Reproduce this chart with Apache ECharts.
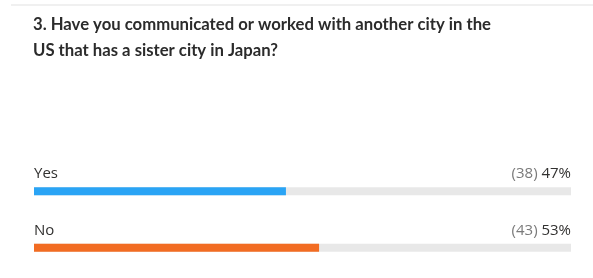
<!DOCTYPE html>
<html>
<head>
<meta charset="utf-8">
<script src="https://cdn.jsdelivr.net/npm/echarts@6/dist/echarts.min.js"></script>
<style>
  html, body { margin: 0; padding: 0; background: #fff; }
  #chart { width: 593px; height: 278px; }
</style>
</head>
<body>
<div id="chart"></div>
<script>
let answers = ['Yes', 'No']
let counts = [38, 43]
let percents = [47, 53]
let barColors = ['#2aa4f5', '#f26c22']

const total = counts.reduce((a, b) => a + b, 0)

onload = () => {
    let chart = echarts.init(document.getElementById('chart'))
    let option = {
        animation: false,
        title: {
            text: '3. Have you communicated or worked with another city in the\nUS that has a sister city in Japan?',
            left: 33,
            top: 12,
            padding: 0,
            textStyle: {
                fontFamily: 'Lato',
                fontWeight: 'bold',
                fontSize: 16.7,
                lineHeight: 26,
                color: '#2b2b2b'
            }
        },
        graphic: [{
            type: 'rect',
            shape: { x: 11, y: 4, width: 582, height: 2 },
            style: { fill: '#f0f0f0' }
        }],
        grid: { left: 34, right: 22, top: 163, height: 113 },
        xAxis: { type: 'value', min: 0, max: total, show: false },
        yAxis: { type: 'category', data: answers, inverse: true, show: false },
        series: [
            {
                // grey track + count/percent on the right
                type: 'bar',
                barWidth: 8,
                data: answers.map(() => total),
                itemStyle: { color: '#e8e8e8' },
                silent: true,
                label: {
                    show: true,
                    position: ['100%', -6],
                    align: 'right',
                    verticalAlign: 'bottom',
                    fontFamily: 'Open Sans',
                    fontSize: 15,
                    formatter: (p) => `{c|(${counts[p.dataIndex]})} {p|${percents[p.dataIndex]}%}`,
                    rich: {
                        c: { color: '#7a7a7a', fontFamily: 'Open Sans', fontSize: 15 },
                        p: { color: '#323130', fontFamily: 'Open Sans', fontSize: 15 }
                    }
                }
            },
            {
                type: 'bar',
                barWidth: 8,
                barGap: '-100%',
                data: counts.map((v, i) => ({ value: v, itemStyle: { color: barColors[i] } })),
                label: {
                    show: true,
                    position: [0, -6],
                    align: 'left',
                    verticalAlign: 'bottom',
                    fontFamily: 'Open Sans',
                    fontSize: 15,
                    color: '#323130',
                    formatter: (p) => answers[p.dataIndex]
                }
            }
        ]
    }
    chart.setOption(option)
}
</script>
</body>
</html>
